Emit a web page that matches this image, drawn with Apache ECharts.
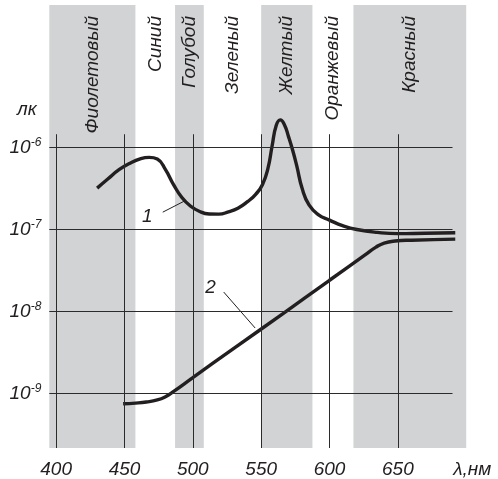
<!DOCTYPE html>
<html>
<head>
<meta charset="utf-8">
<script src="https://cdn.jsdelivr.net/npm/echarts@6/dist/echarts.min.js"></script>
<style>
html, body { margin: 0; padding: 0; background: #fff; }
#chart { width: 498px; height: 479px; }
</style>
</head>
<body>
<div id="chart"></div>
<script>
// spectral regions (nm), every other one shaded grey
const regionNames = ["Фиолетовый", "Синий", "Голубой", "Зеленый", "Желтый", "Оранжевый", "Красный"]
const regionEdges = [395, 458, 487, 508, 550, 587.5, 617.5, 700]
const xTicks = [400, 450, 500, 550, 600, 650]
// log10 of illuminance, lx
const yTicks = [-9, -8, -7, -6]

// curve 1
const curve1Nm = [430, 438, 446, 454, 462, 468, 474, 480, 486, 492, 498, 505, 512, 519, 526, 533, 540, 546, 551, 555, 558, 561, 564, 567, 570, 573, 576, 580, 585, 592, 600, 610, 620, 635, 650, 670, 692]
const curve1Log = [-6.495, -6.38, -6.27, -6.19, -6.135, -6.12, -6.14, -6.27, -6.455, -6.61, -6.71, -6.78, -6.81, -6.812, -6.785, -6.74, -6.66, -6.57, -6.45, -6.25, -5.98, -5.73, -5.662, -5.72, -5.866, -6.03, -6.22, -6.5, -6.7, -6.82, -6.885, -6.955, -7.0, -7.035, -7.05, -7.045, -7.04]
// curve 2
const curve2Nm = [449, 458, 466, 474, 480, 486, 500, 530, 566, 600, 626, 634, 640, 648, 660, 692]
const curve2Log = [-9.126, -9.118, -9.105, -9.08, -9.04, -8.976, -8.808, -8.45, -8.026, -7.619, -7.31, -7.215, -7.165, -7.14, -7.13, -7.117]

const ink = "#231f20"
const chart = echarts.init(document.getElementById("chart"))

const zip = (a, b) => a.map((v, i) => [v, b[i]])

const bands = []
for (let i = 0; i < regionNames.length; i += 2) {
	bands.push([{ xAxis: regionEdges[i] }, { xAxis: regionEdges[i + 1] }])
}

const gridLines = []
yTicks.forEach(v => gridLines.push([{ coord: [395, v] }, { coord: [690, v] }]))
xTicks.forEach(v => gridLines.push([{ coord: [v, -9.666] }, { coord: [v, -5.837] }]))

const font = "Liberation Sans, Arial, sans-serif"

const curveStyle = { color: ink, width: 3.4 }

chart.setOption({
	animation: false,
	grid: { left: 49.3, right: 31.8, top: 5, bottom: 30.7 },
	xAxis: {
		type: "value",
		min: 395,
		max: 700,
		axisLine: { show: false },
		axisTick: { show: false },
		splitLine: { show: false },
		axisLabel: {
			customValues: xTicks,
			margin: 12,
			color: ink,
			fontSize: 19,
			fontStyle: "italic",
			fontFamily: font
		},
		name: "λ,нм",
		nameLocation: "end",
		nameGap: -13,
		nameTextStyle: {
			color: ink,
			fontSize: 19,
			fontStyle: "italic",
			fontFamily: font,
			verticalAlign: "top",
			padding: [12, 0, 0, 0]
		}
	},
	yAxis: {
		type: "value",
		min: -9.666,
		max: -4.26,
		axisLine: { show: false },
		axisTick: { show: false },
		splitLine: { show: false },
		axisLabel: {
			customValues: yTicks,
			margin: 8,
			formatter: v => "{b|10}{s|" + v + "}",
			rich: {
				b: { fontSize: 19, fontStyle: "italic", fontFamily: font, color: ink },
				s: { fontSize: 12, fontStyle: "italic", fontFamily: font, color: ink, padding: [0, 0, 10, 0] }
			}
		}
	},
	series: [
		{
			type: "line",
			data: [],
			z: 1,
			markArea: {
				silent: true,
				itemStyle: { color: "#d1d3d4" },
				data: bands
			},
			markLine: {
				silent: true,
				symbol: "none",
				label: { show: false },
				lineStyle: { color: "#2b2b2b", width: 1, type: "solid" },
				data: gridLines
			}
		},
		{
			type: "line",
			z: 3,
			data: zip(curve1Nm, curve1Log),
			smooth: 0.5,
			showSymbol: false,
			lineStyle: curveStyle
		},
		{
			type: "line",
			z: 3,
			data: zip(curve2Nm, curve2Log),
			smooth: 0.5,
			showSymbol: false,
			lineStyle: curveStyle
		},
		// leader for "1"
		{
			type: "line",
			z: 3,
			data: [[478, -6.788], [494.6, -6.646]],
			showSymbol: false,
			lineStyle: { color: ink, width: 1 }
		},
		// leader for "2"
		{
			type: "line",
			z: 3,
			data: [[522.6, -7.763], [545.6, -8.202]],
			showSymbol: false,
			lineStyle: { color: ink, width: 1 }
		}
	]
})

const textStyle = { fill: ink, fontSize: 19, fontStyle: "italic", fontFamily: font }
const graphics = []
regionNames.forEach((name, i) => {
	const cx = chart.convertToPixel({ gridIndex: 0 }, [(regionEdges[i] + regionEdges[i + 1]) / 2, -6])[0]
	graphics.push({
		type: "text",
		x: cx,
		y: 16,
		z: 50,
		rotation: Math.PI / 2,
		style: Object.assign({ text: name, align: "right", verticalAlign: "middle" }, textStyle)
	})
})
const p1 = chart.convertToPixel({ gridIndex: 0 }, [466.6, -6.841])
const p2 = chart.convertToPixel({ gridIndex: 0 }, [512.9, -7.714])
graphics.push({ type: "text", x: p1[0], y: p1[1], z: 50, style: Object.assign({ text: "1", align: "center", verticalAlign: "middle" }, textStyle) })
graphics.push({ type: "text", x: p2[0], y: p2[1], z: 50, style: Object.assign({ text: "2", align: "center", verticalAlign: "middle" }, textStyle) })
graphics.push({ type: "text", x: 17, y: 110, z: 50, style: Object.assign({ text: "лк", align: "left", verticalAlign: "middle" }, textStyle) })

chart.setOption({ graphic: graphics })
</script>
</body>
</html>
